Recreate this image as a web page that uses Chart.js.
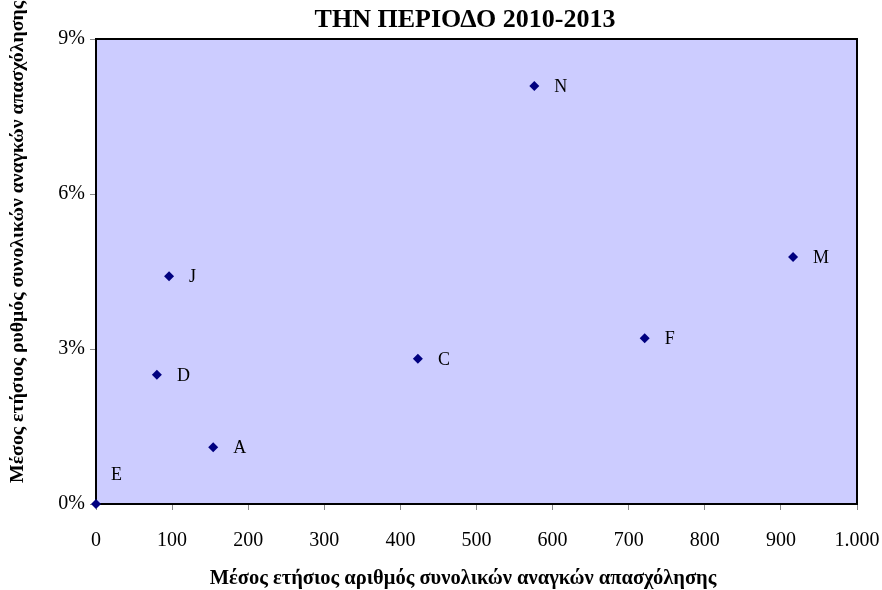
<!DOCTYPE html>
<html><head><meta charset="utf-8">
<script src="https://cdn.jsdelivr.net/npm/chart.js@4/dist/chart.umd.min.js"></script>
<style>html,body{margin:0;padding:0;background:#fff}#wrap{width:882px;height:590px}</style>
</head><body><div id="wrap"><canvas id="c" width="882" height="590"></canvas></div>
<script>
const labels = ["N","M","J","F","C","D","A","E"];
const xValues = [576, 916, 96, 721, 423, 80, 154, 0];
const yValues = [0.0809, 0.0478, 0.0441, 0.0321, 0.0281, 0.0250, 0.0110, 0];
const chartTitle = "ΤΗΝ ΠΕΡΙΟΔΟ 2010-2013";
const xTitle = "Μέσος ετήσιος αριθμός συνολικών αναγκών απασχόλησης";
const yTitle = "Μέσος ετήσιος ρυθμός συνολικών αναγκών απασχόλησης";

const pts = xValues.map((x, i) => ({x: x, y: yValues[i], label: labels[i]}));
const serif = "'Liberation Serif','Times New Roman',serif";

const decor = {
  id: 'decor',
  beforeDraw(chart) {
    const {ctx, chartArea: a} = chart;
    ctx.save();
    ctx.fillStyle = '#CCCCFF';
    ctx.fillRect(a.left, a.top, a.right - a.left, a.bottom - a.top);
    ctx.restore();
  },
  beforeDatasetsDraw(chart) {
    const {ctx, chartArea: a} = chart;
    ctx.save();
    ctx.strokeStyle = '#000';
    ctx.lineWidth = 2;
    ctx.strokeRect(a.left, a.top, a.right - a.left, a.bottom - a.top);
    ctx.restore();
  },
  afterDraw(chart) {
    const {ctx} = chart;
    ctx.save();
    ctx.fillStyle = '#000';
    ctx.font = "bold 26px " + serif;
    ctx.textAlign = 'center'; ctx.textBaseline = 'middle';
    ctx.fillText(chartTitle, 465, 20);
    ctx.font = "bold 20.5px " + serif;
    ctx.fillText(xTitle, 463, 579);
    ctx.font = "bold 19.8px " + serif;
    ctx.translate(18, 483);
    ctx.rotate(-Math.PI / 2);
    ctx.textAlign = 'left';
    ctx.fillText(yTitle, 0, 0);
    ctx.restore();
    // point labels
    const meta = chart.getDatasetMeta(0);
    ctx.save();
    ctx.font = "18px " + serif;
    ctx.fillStyle = '#000';
    ctx.textBaseline = 'middle';
    meta.data.forEach((el, i) => {
      const lab = pts[i].label;
      if (lab === 'E') ctx.fillText(lab, el.x + 15, el.y - 29);
      else ctx.fillText(lab, el.x + 20, el.y + 1);
    });
    ctx.restore();
  }
};

new Chart(document.getElementById('c'), {
  type: 'scatter',
  data: { datasets: [{
    data: pts,
    pointStyle: 'rectRot',
    pointRadius: 5,
    pointHoverRadius: 5,
    backgroundColor: '#000080',
    borderColor: '#000080',
    borderWidth: 0,
    clip: false
  }]},
  options: {
    responsive: false,
    animation: false,
    layout: { padding: { top: 39, right: 25, left: 0, bottom: 0 } },
    plugins: { legend: { display: false }, tooltip: { enabled: false } },
    scales: {
      x: {
        type: 'linear', min: 0, max: 1000,
        afterFit(s) { s.height = 86; s.paddingLeft = 0; s.paddingRight = 0; },
        border: { display: false },
        grid: { drawOnChartArea: false, drawTicks: true, tickLength: 6, color: '#888' },
        ticks: { stepSize: 100, padding: 19, color: '#000', maxRotation: 0, autoSkip: false,
          font: { family: serif, size: 20 },
          callback: v => v >= 1000 ? (Math.floor(v/1000) + '.' + String(v%1000).padStart(3,'0')) : String(v) }
      },
      y: {
        type: 'linear', min: 0, max: 0.09,
        afterFit(s) { s.width = 96; s.paddingTop = 0; s.paddingBottom = 0; },
        border: { display: false },
        grid: { drawOnChartArea: false, drawTicks: true, tickLength: 6, color: '#888' },
        ticks: { stepSize: 0.03, padding: 5, color: '#000',
          font: { family: serif, size: 20 },
          callback: v => Math.round(v * 100) + '%' }
      }
    }
  },
  plugins: [decor]
});
</script></body></html>
